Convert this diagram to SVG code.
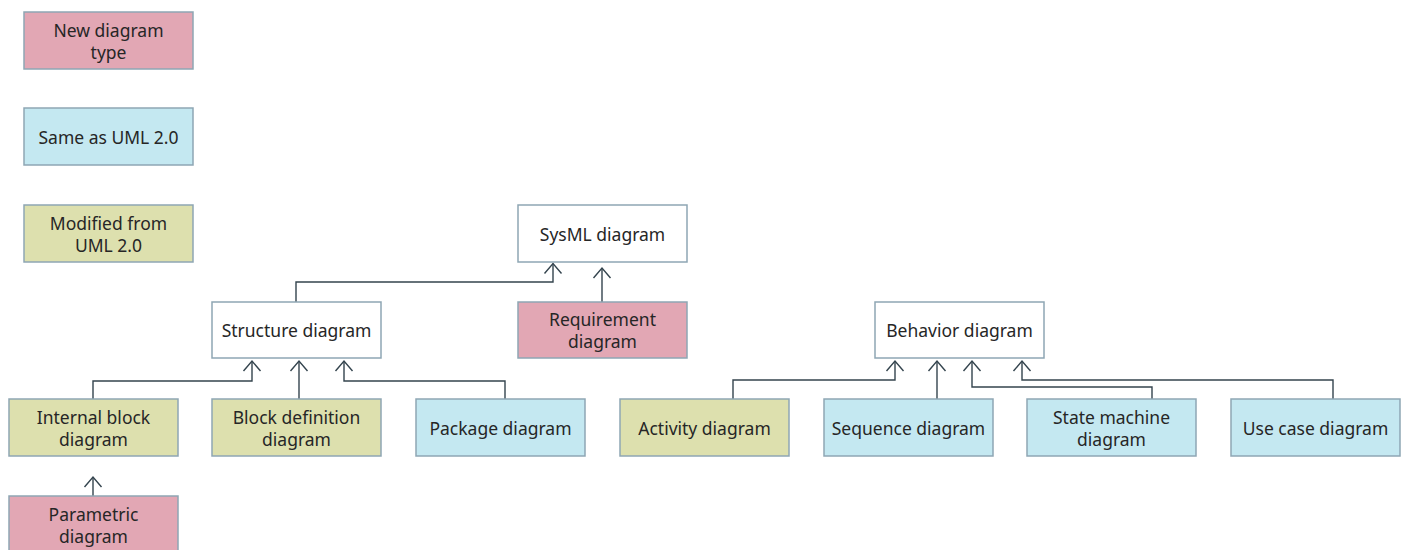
<svg xmlns="http://www.w3.org/2000/svg" width="1406" height="550" viewBox="0 0 1406 550">
  <style>
    .box { stroke: #8ea6b4; stroke-width: 1.5; }
    .plain { fill: #ffffff; }
    .new { fill: #e2a7b4; }
    .same { fill: #c4e8f1; }
    .mod { fill: #dde0ae; }
    .lbl { font-family: "Noto Sans", "Open Sans", sans-serif; font-size: 17.5px; fill: #262626; text-anchor: middle; dominant-baseline: central; }
    .conn { fill: none; stroke: #34444e; stroke-width: 1.4; marker-end: url(#open); }
  </style>
  <defs>
    <marker id="open" markerUnits="userSpaceOnUse" markerWidth="24" markerHeight="24" refX="0" refY="0" viewBox="-12 -12 24 24" orient="auto" overflow="visible">
      <path d="M -10 -8.5 L 0 0 L -10 8.5" fill="none" stroke="#34444e" stroke-width="1.4"/>
    </marker>
  </defs>

  <rect width="1406" height="550" fill="#ffffff"/>

  <!-- legend -->
  <g id="legend-new">
    <rect class="box new" x="24" y="12" width="169" height="57"/>
    <text class="lbl" x="108.5" y="29.5">New diagram</text>
    <text class="lbl" x="108.5" y="51.5">type</text>
  </g>
  <g id="legend-same">
    <rect class="box same" x="24" y="108" width="169" height="57"/>
    <text class="lbl" x="108.5" y="136.5">Same as UML 2.0</text>
  </g>
  <g id="legend-modified">
    <rect class="box mod" x="24" y="205" width="169" height="57"/>
    <text class="lbl" x="108.5" y="222.5">Modified from</text>
    <text class="lbl" x="108.5" y="244.5">UML 2.0</text>
  </g>

  <!-- connectors -->
  <g id="connectors">
    <path class="conn" d="M 296 302 V 282 H 553 V 263.5"/>
    <path class="conn" d="M 602 302 V 268"/>
    <path class="conn" d="M 93 399 V 381 H 252 V 361"/>
    <path class="conn" d="M 299 399 V 361"/>
    <path class="conn" d="M 505 399 V 381 H 344 V 361"/>
    <path class="conn" d="M 93 496 V 477"/>
    <path class="conn" d="M 733 399 V 380 H 895 V 361"/>
    <path class="conn" d="M 937 399 V 361"/>
    <path class="conn" d="M 1152 399 V 387 H 972 V 361"/>
    <path class="conn" d="M 1333 399 V 380 H 1022 V 361"/>
  </g>

  <!-- nodes -->
  <g id="sysml">
    <rect class="box plain" x="518" y="205" width="169" height="57"/>
    <text class="lbl" x="602.5" y="233.5">SysML diagram</text>
  </g>
  <g id="structure">
    <rect class="box plain" x="212" y="302" width="169" height="56"/>
    <text class="lbl" x="296.5" y="330">Structure diagram</text>
  </g>
  <g id="requirement">
    <rect class="box new" x="518" y="302" width="169" height="56"/>
    <text class="lbl" x="602.5" y="319">Requirement</text>
    <text class="lbl" x="602.5" y="341">diagram</text>
  </g>
  <g id="behavior">
    <rect class="box plain" x="875" y="302" width="169" height="56"/>
    <text class="lbl" x="959.5" y="330">Behavior diagram</text>
  </g>
  <g id="internal-block">
    <rect class="box mod" x="9" y="399" width="169" height="57"/>
    <text class="lbl" x="93.5" y="416.5">Internal block</text>
    <text class="lbl" x="93.5" y="438.5">diagram</text>
  </g>
  <g id="block-definition">
    <rect class="box mod" x="212" y="399" width="169" height="57"/>
    <text class="lbl" x="296.5" y="416.5">Block definition</text>
    <text class="lbl" x="296.5" y="438.5">diagram</text>
  </g>
  <g id="package">
    <rect class="box same" x="416" y="399" width="169" height="57"/>
    <text class="lbl" x="500.5" y="427.5">Package diagram</text>
  </g>
  <g id="parametric">
    <rect class="box new" x="9" y="496" width="169" height="57"/>
    <text class="lbl" x="93.5" y="513.5">Parametric</text>
    <text class="lbl" x="93.5" y="535.5">diagram</text>
  </g>
  <g id="activity">
    <rect class="box mod" x="620" y="399" width="169" height="57"/>
    <text class="lbl" x="704.5" y="427.5">Activity diagram</text>
  </g>
  <g id="sequence">
    <rect class="box same" x="824" y="399" width="169" height="57"/>
    <text class="lbl" x="908.5" y="427.5">Sequence diagram</text>
  </g>
  <g id="state-machine">
    <rect class="box same" x="1027" y="399" width="169" height="57"/>
    <text class="lbl" x="1111.5" y="416.5">State machine</text>
    <text class="lbl" x="1111.5" y="438.5">diagram</text>
  </g>
  <g id="use-case">
    <rect class="box same" x="1231" y="399" width="169" height="57"/>
    <text class="lbl" x="1315.5" y="427.5">Use case diagram</text>
  </g>
</svg>
